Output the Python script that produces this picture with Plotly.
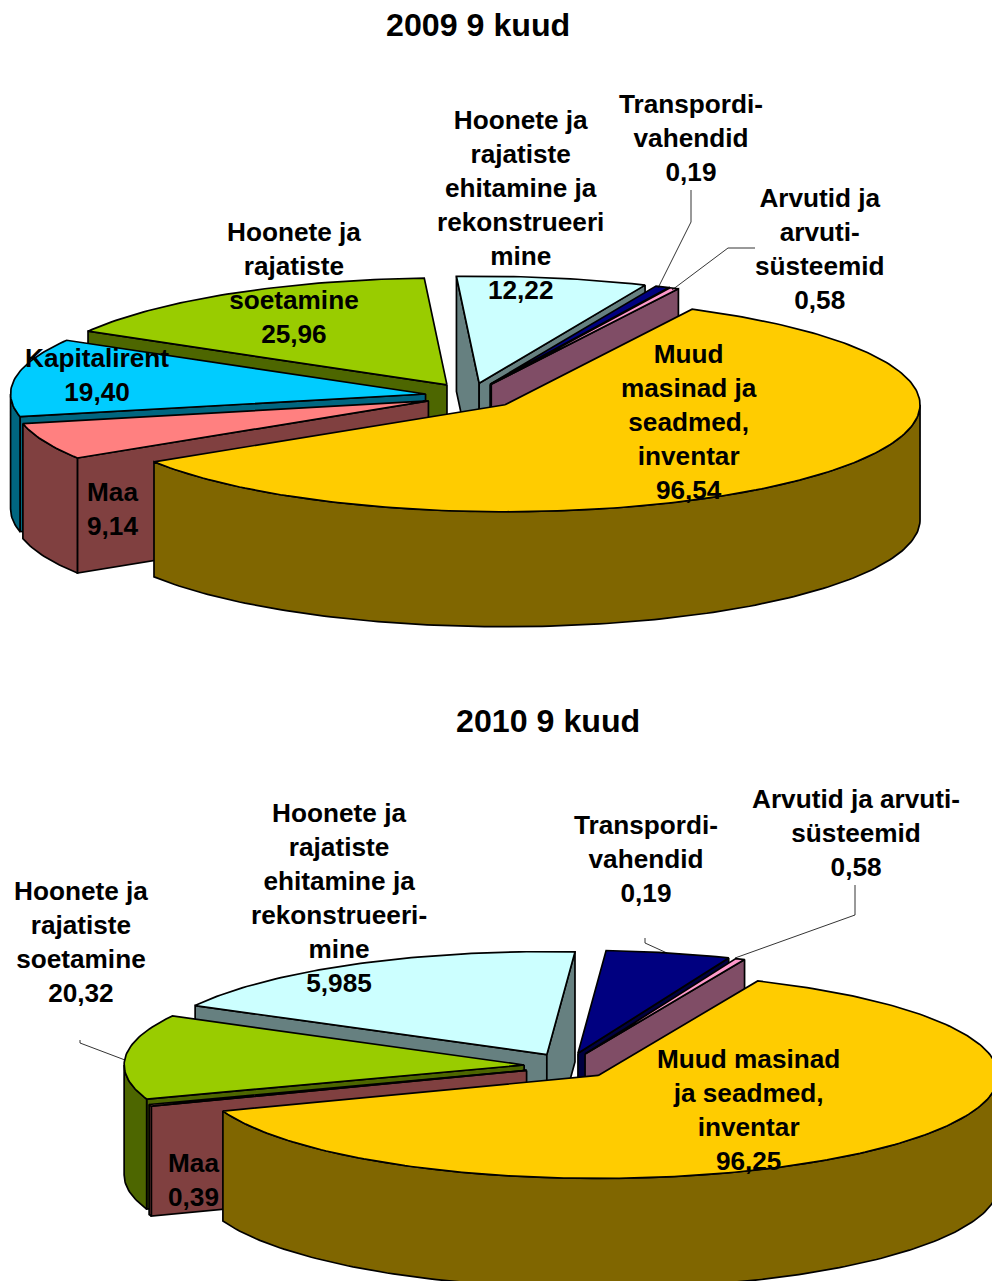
import math
import plotly.graph_objects as go

# --- data ---
names_2009 = ["Muud\nmasinad ja\nseadmed,\ninventar", "Maa", "Kapitalirent",
              "Hoonete ja\nrajatiste\nsoetamine",
              "Hoonete ja\nrajatiste\nehitamine ja\nrekonstrueeri\nmine",
              "Transpordi-\nvahendid", "Arvutid ja\narvuti-\nsüsteemid"]
values_2009 = [96.54, 9.14, 19.40, 25.96, 12.22, 0.9, 0.58]
value_text_2009 = ["96,54", "9,14", "19,40", "25,96", "12,22", "0,19", "0,58"]

names_2010 = ["Muud masinad\nja seadmed,\ninventar", "Maa",
              "Hoonete ja\nrajatiste\nsoetamine",
              "Hoonete ja\nrajatiste\nehitamine ja\nrekonstrueeri-\nmine",
              "Transpordi-\nvahendid", "Arvutid ja arvuti-\nsüsteemid"]
# The drawn sector sizes of two slices differ from their printed labels,
# so these two are read from the picture's sector angles.
values_2010 = [96.25, 0.39, 20.32, 27.9, 7.7, 0.58]
value_text_2010 = ["96,25", "0,39", "20,32", "5,985", "0,19", "0,58"]

# --- styling (top colour, side colour) ---
COL = {"muud": ("#FFCC00", "#806600"), "maa": ("#FF8080", "#804040"),
       "kap": ("#00CCFF", "#006680"), "soet": ("#99CC00", "#4D6600"),
       "ehit": ("#CCFFFF", "#668080"), "tran": ("#000080", "#000040"),
       "arv": ("#FF99CC", "#804D66")}
keys_2009 = ["muud", "maa", "kap", "soet", "ehit", "tran", "arv"]
keys_2010 = ["muud", "maa", "soet", "ehit", "tran", "arv"]
PAINT = ["ehit", "tran", "arv", "soet", "kap", "maa", "muud"]

GEOM_2009 = dict(cx=471, cy=396, rx=415, ry=107, ex=46, ey=13, depth=115, start=26.8)
GEOM_2010 = dict(cx=568, cy=1066, rx=400, ry=103, ex=44, ey=13, depth=110, start=23.5)

LABEL_POS_2009 = [(689, 422), (112, 509), (97, 375), (294, 283), (520, 205), (691, 138), (820, 249)]
LABEL_POS_2010 = [(748, 1110), (193, 1180), (81, 942), (339, 898), (646, 859), (856, 833)]

LEADERS = [[(691, 190), (691, 222), (658, 288)],
           [(755, 248), (728, 248), (672, 290)],
           [(80, 1040), (80, 1043), (125, 1060)],
           [(645, 938), (645, 943), (667, 953)],
           [(855, 885), (855, 915), (735, 958)]]

FONT = "Liberation Sans"
fig = go.Figure()


def poly(xs, ys, fill):
    fig.add_trace(go.Scatter(x=xs + xs[:1], y=ys + ys[:1], mode="lines", fill="toself",
                             fillcolor=fill, line=dict(color="black", width=1.7),
                             hoverinfo="skip", showlegend=False))


def draw_pie(values, keys, g):
    total = sum(values)
    a = g["start"]
    spans = {}
    for k, v in zip(keys, values):
        spans[k] = (a, a + v / total * 360)
        a = spans[k][1]

    def pt(ax, ay, deg):
        t = math.radians(deg)
        return ax + g["rx"] * math.sin(t), ay - g["ry"] * math.cos(t)

    def arc(ax, ay, a1, a2):
        n = max(2, int(abs(a2 - a1)) + 2)
        return [pt(ax, ay, a1 + (a2 - a1) * i / (n - 1)) for i in range(n)]

    for k in PAINT:
        if k not in spans:
            continue
        a1, a2 = spans[k]
        mid = math.radians((a1 + a2) / 2)
        ax = g["cx"] + g["ex"] * math.sin(mid)
        ay = g["cy"] - g["ey"] * math.cos(mid)
        top, side = COL[k]
        d = g["depth"]
        # radial walls that face the viewer
        if math.sin(math.radians(a1)) < 0:
            x, y = pt(ax, ay, a1)
            poly([ax, x, x, ax], [ay, y, y + d, ay + d], side)
        if math.sin(math.radians(a2)) > 0:
            x, y = pt(ax, ay, a2)
            poly([ax, x, x, ax], [ay, y, y + d, ay + d], side)
        # outer rim, front half only
        for lo, hi in ((90, 270), (450, 630)):
            r1, r2 = max(a1, lo), min(a2, hi)
            if r2 > r1:
                pts = arc(ax, ay, r1, r2)
                poly([p[0] for p in pts] + [p[0] for p in reversed(pts)],
                     [p[1] for p in pts] + [p[1] + d for p in reversed(pts)], side)
        # top face
        pts = arc(ax, ay, a1, a2)
        poly([ax] + [p[0] for p in pts], [ay] + [p[1] for p in pts], top)


draw_pie(values_2009, keys_2009, GEOM_2009)
draw_pie(values_2010, keys_2010, GEOM_2010)

for line in LEADERS:
    fig.add_trace(go.Scatter(x=[p[0] for p in line], y=[p[1] for p in line], mode="lines",
                             line=dict(color="black", width=0.8),
                             hoverinfo="skip", showlegend=False))


def note(x, y, text, size=26.2):
    fig.add_annotation(x=x, y=y, xref="x", yref="y", text=text, showarrow=False,
                       xanchor="center", yanchor="middle", align="center",
                       font=dict(family=FONT, size=size, color="black"))


for names, vals, pos in ((names_2009, value_text_2009, LABEL_POS_2009),
                         (names_2010, value_text_2010, LABEL_POS_2010)):
    for n, v, (x, y) in zip(names, vals, pos):
        note(x, y, "<b>" + n.replace("\n", "<br>") + "<br>" + v + "</b>")

note(478, 25, "<b>2009 9 kuud</b>", 32.2)
note(548, 721, "<b>2010 9 kuud</b>", 32.2)

fig.update_layout(width=992, height=1281, autosize=False,
                  margin=dict(l=0, r=0, t=0, b=0, pad=0),
                  paper_bgcolor="white", plot_bgcolor="white", showlegend=False,
                  xaxis=dict(range=[0, 992], visible=False),
                  yaxis=dict(range=[1281, 0], visible=False))

fig.write_html("out.html", config={"displayModeBar": False},
               post_script="document.body.style.margin='0';")
